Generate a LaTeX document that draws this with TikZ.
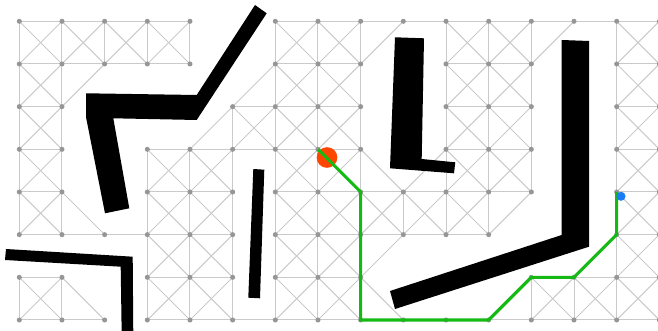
\documentclass[tikz,border=0pt]{standalone}
\usepackage{xcolor}
\definecolor{edgec}{RGB}{202,202,202}
\definecolor{dotc}{RGB}{150,150,150}
\definecolor{pathc}{RGB}{20,185,20}
\definecolor{startc}{RGB}{255,69,0}
\definecolor{goalc}{RGB}{25,125,245}
\tikzset{
  edge/.style={draw=edgec, line width=0.75pt},
  gdot/.style={circle, fill=dotc, inner sep=0pt, minimum size=3.8pt},
  obst/.style={fill=black},
  route/.style={draw=pathc, line width=2.3pt},
  startdot/.style={circle, fill=startc, inner sep=0pt, minimum size=15.5pt},
  goaldot/.style={circle, fill=goalc, inner sep=0pt, minimum size=6.8pt},
}
\newcommand\exclude[4]{\expandafter\gdef\csname ex-#1-#2-#3-#4\endcsname{}}
\newcommand\tryedge[4]{%
  \ifcsname pres-#3-#4\endcsname
    \ifcsname ex-#1-#2-#3-#4\endcsname\else
      \draw[edge] (p-#1-#2.center) -- (p-#3-#4.center);
    \fi
  \fi}
\newcommand\rowdata[1]{%
  #1{0}{0,1,2,3,4,6,7,8,9,10,11,12,13,14,15}%
  #1{1}{0,1,2,3,4,6,7,8,10,11,12,14,15}%
  #1{2}{0,1,5,6,7,8,10,11,12,14,15}%
  #1{3}{0,1,3,4,5,6,7,8,10,11,12,14,15}%
  #1{4}{0,1,3,4,5,6,7,8,9,10,11,12,14,15}%
  #1{5}{0,1,2,3,4,5,6,7,8,9,10,11,14,15}%
  #1{6}{0,1,3,4,5,6,7,8,12,13,14,15}%
  #1{7}{0,1,2,3,4,5,6,7,8,9,10,11,12,13,14,15}%
}
\newcommand\defrow[2]{\foreach \i in {#2}{%
  \coordinate (p-\i-#1) at ({19.3+42.67*\i},{21.3+42.67*#1});
  \expandafter\gdef\csname pres-\i-#1\endcsname{}}}
\newcommand\edgerow[2]{\foreach \i in {#2}{%
  \pgfmathtruncatemacro\ip{\i+1}%
  \pgfmathtruncatemacro\im{\i-1}%
  \pgfmathtruncatemacro\jp{#1+1}%
  \tryedge{\i}{#1}{\ip}{#1}%
  \tryedge{\i}{#1}{\i}{\jp}%
  \tryedge{\i}{#1}{\ip}{\jp}%
  \tryedge{\i}{#1}{\im}{\jp}}}
\newcommand\dotrow[2]{\foreach \i in {#2}{\node[gdot] (d-\i-#1) at (p-\i-#1) {};}}
% edges blocked by obstacles
\exclude{5}{4}{6}{4}\exclude{5}{5}{6}{5}\exclude{5}{6}{6}{6}\exclude{2}{7}{3}{7}
\exclude{0}{5}{0}{6}\exclude{1}{5}{1}{6}
\exclude{0}{5}{1}{6}\exclude{2}{5}{3}{6}\exclude{4}{1}{5}{2}\exclude{5}{3}{6}{4}
\exclude{5}{4}{6}{5}\exclude{5}{5}{6}{6}\exclude{5}{6}{6}{7}\exclude{9}{0}{10}{1}
\exclude{13}{0}{14}{1}\exclude{11}{5}{12}{6}
\exclude{1}{5}{0}{6}\exclude{2}{5}{1}{6}\exclude{3}{4}{2}{5}\exclude{3}{6}{2}{7}
\exclude{6}{3}{5}{4}\exclude{6}{4}{5}{5}\exclude{6}{5}{5}{6}\exclude{6}{6}{5}{7}
\begin{document}
\begin{tikzpicture}[x=0.75pt,y=-0.75pt]
\useasboundingbox (0,0) rectangle (658,331);
\rowdata\defrow
\rowdata\edgerow
\rowdata\dotrow
% obstacles
\fill[obst] (255,5) -- (266.7,13.3) -- (196.7,120) -- (113.3,118.3) -- (129.3,208.3)
  -- (105,213.3) -- (86,117) -- (86,93.3) -- (196.7,95) -- cycle;
\fill[obst] (253.3,169) -- (264.3,169.7) -- (260,298.3) -- (248.3,297.7) -- cycle;
\fill[obst] (6,249) -- (132.7,256.7) -- (133.3,335) -- (121.7,335) -- (120.7,266.7) -- (5,260) -- cycle;
\fill[obst] (395,37.3) -- (424,38.3) -- (421.7,159) -- (455.3,162.3) -- (454,173.3) -- (390,168.3) -- cycle;
\fill[obst] (561.7,40) -- (589,41) -- (589,246.7) -- (395,309) -- (390,291) -- (561.7,235) -- cycle;
% start, route, goal
\node[startdot] (start) at (327,157.5) {};
\draw[route] (p-7-3.center) -- (p-8-4.center) -- (p-8-7.center) -- (p-11-7.center)
  -- (p-12-6.center) -- (p-13-6.center) -- (p-14-5.center) -- (p-14-4.center);
\node[goaldot] (goal) at (621,196.3) {};
\end{tikzpicture}
\end{document}
